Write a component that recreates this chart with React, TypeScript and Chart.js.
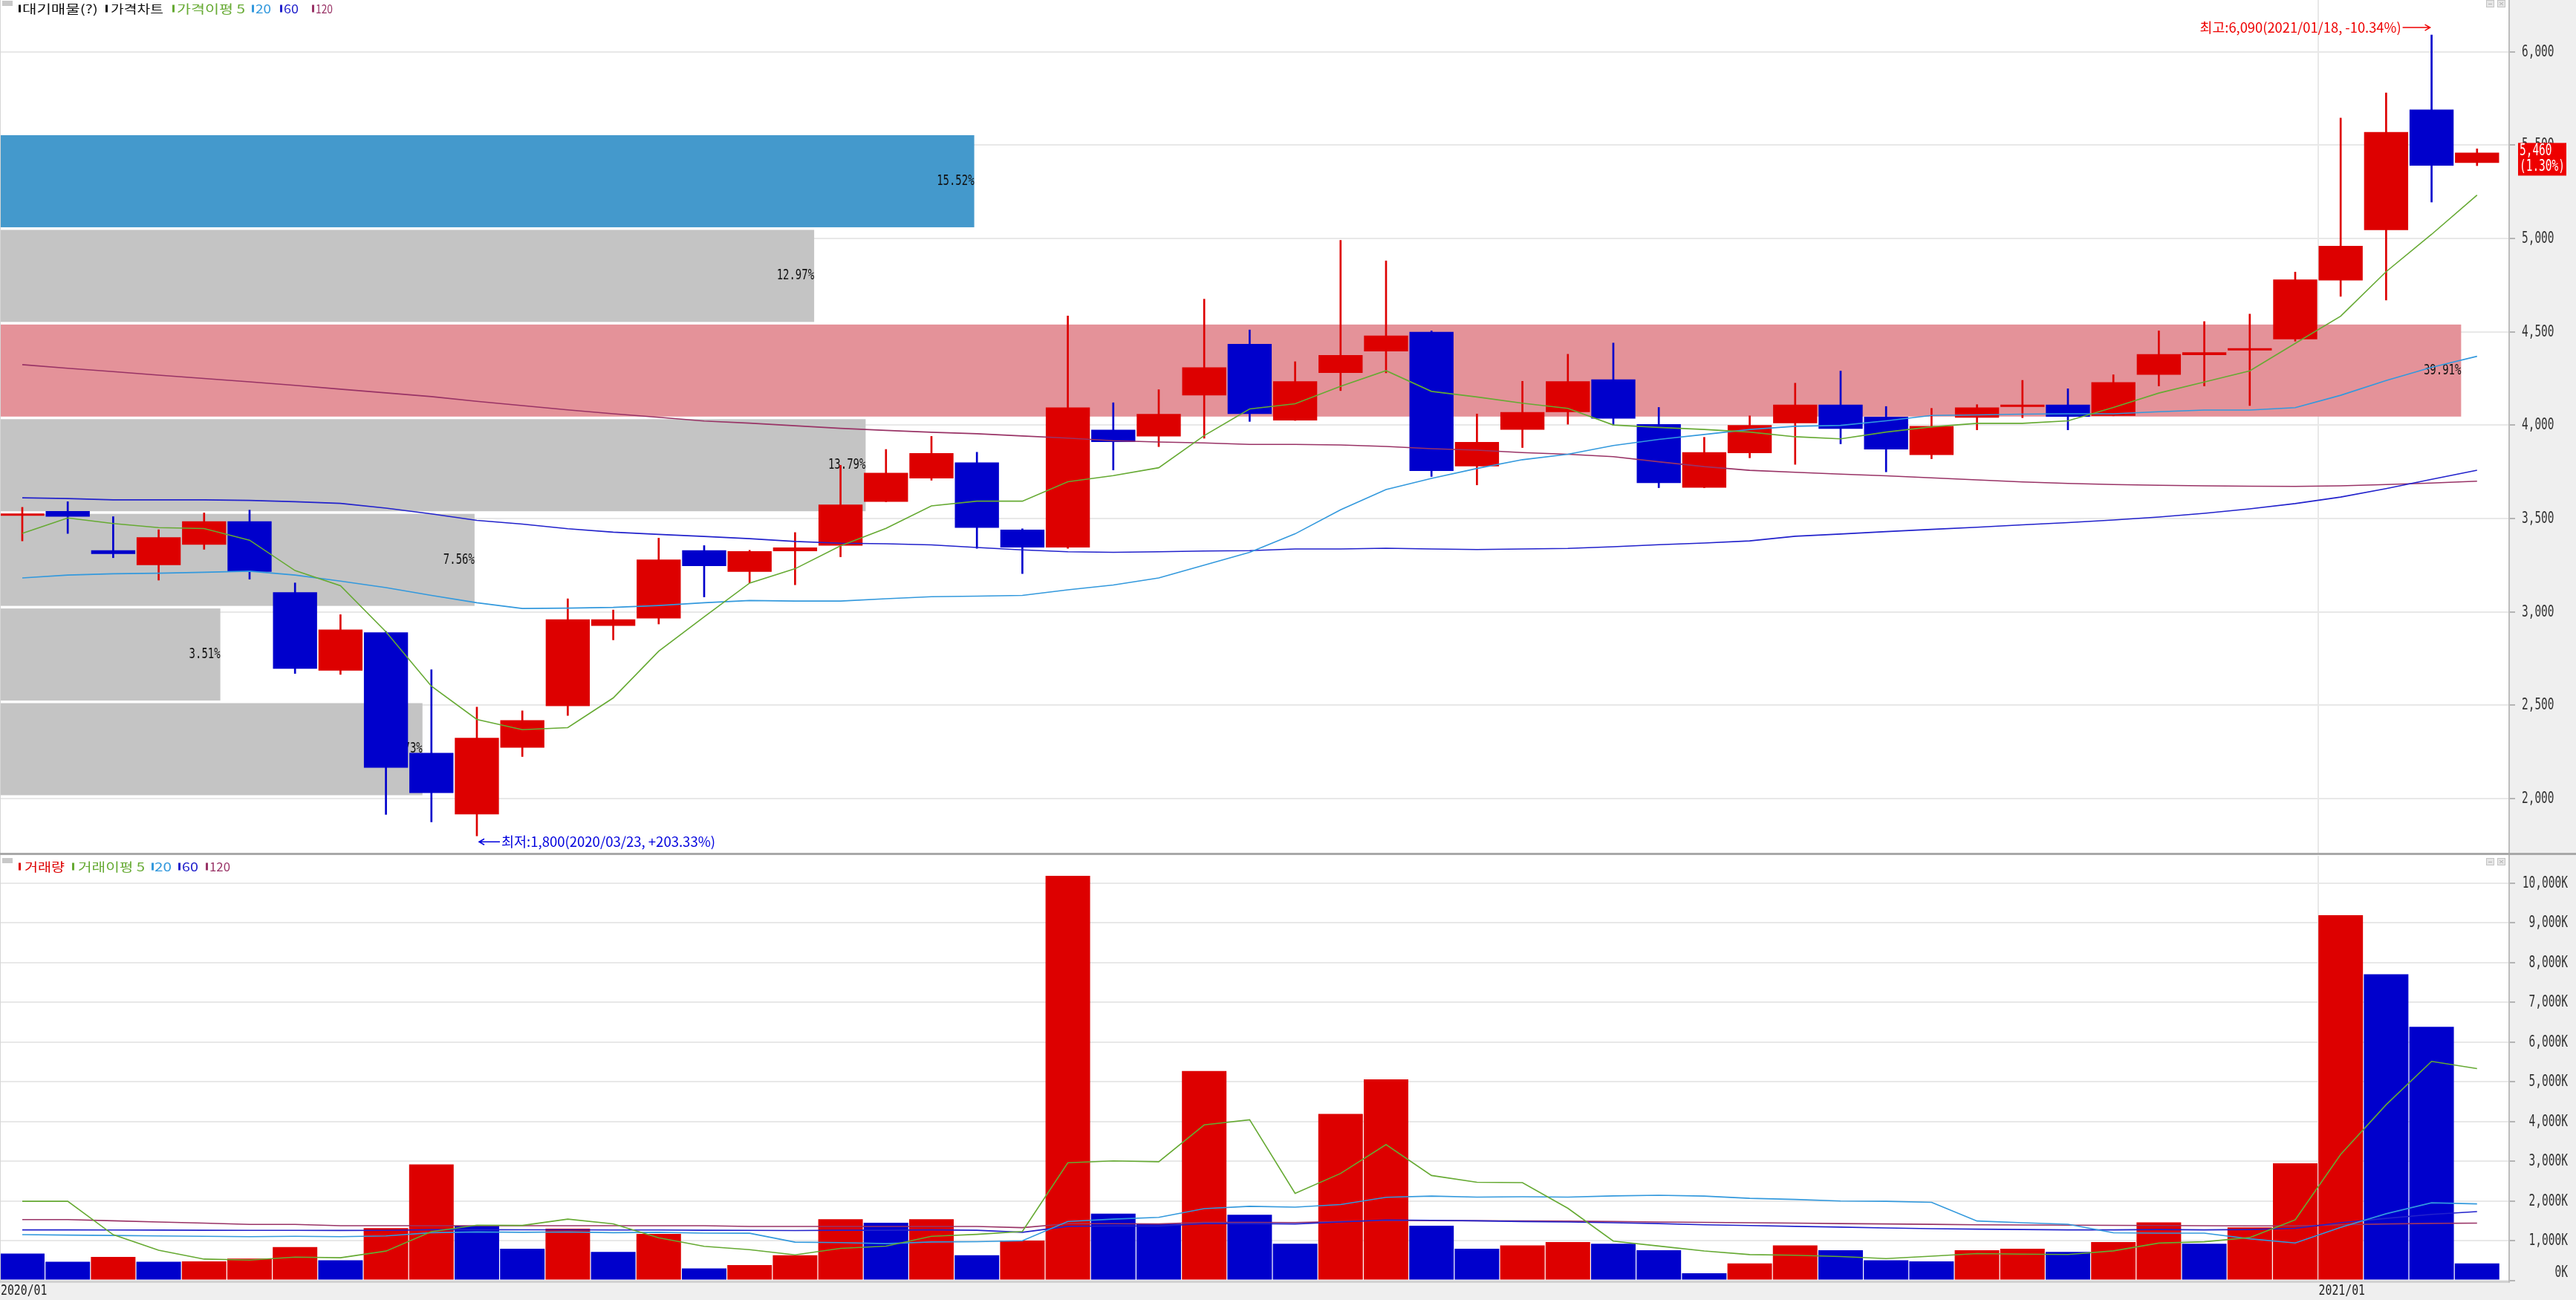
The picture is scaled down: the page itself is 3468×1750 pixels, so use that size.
import React, { useEffect, useRef } from 'react';
import { Chart, registerables } from 'chart.js';

Chart.register(...registerables);

// ---------------- data ----------------
const opens = [3515, 3540, 3330, 3250, 3360, 3485, 3105, 2685, 2890, 2245, 1915, 2273, 2495, 2925, 2965, 3330, 3215, 3325, 3355, 3590, 3715, 3800, 3440, 3345, 3975, 3940, 4160, 4435, 4025, 4280, 4395, 4500, 3780, 3975, 4070, 4245, 4005, 3665, 3850, 4010, 4110, 4045, 3840, 4040, 4098, 4110, 4050, 4270, 4375, 4400, 4460, 4775, 5045, 5690, 5405];
const highs = [3560, 3590, 3510, 3440, 3530, 3545, 3155, 2985, 2895, 2690, 2490, 2470, 3070, 3010, 3395, 3355, 3330, 3425, 3785, 3870, 3940, 3855, 3445, 4585, 4120, 4190, 4675, 4510, 4340, 4990, 4880, 4505, 4060, 4235, 4380, 4440, 4095, 3935, 4050, 4225, 4290, 4100, 4090, 4110, 4240, 4195, 4270, 4505, 4555, 4595, 4820, 5645, 5780, 6090, 5480];
const lows = [3380, 3420, 3290, 3170, 3335, 3175, 2670, 2665, 1915, 1875, 1800, 2225, 2445, 2850, 2935, 3080, 3155, 3145, 3295, 3590, 3705, 3340, 3205, 3340, 3760, 3885, 3930, 4020, 4025, 4185, 4280, 3725, 3680, 3880, 4005, 4000, 3665, 3665, 3825, 3790, 3900, 3750, 3820, 3975, 4040, 3975, 4050, 4210, 4210, 4105, 4450, 4690, 4670, 5195, 5390];
const closes = [3525, 3510, 3310, 3400, 3485, 3215, 2695, 2905, 2165, 2030, 2325, 2420, 2960, 2960, 3280, 3245, 3325, 3345, 3575, 3745, 3850, 3450, 3345, 4095, 3910, 4060, 4310, 4060, 4235, 4375, 4480, 3755, 3910, 4070, 4235, 4035, 3690, 3855, 4000, 4110, 3980, 3870, 3995, 4095, 4108, 4045, 4230, 4380, 4390, 4410, 4780, 4960, 5570, 5390, 5460];

const priceMa5 = [3420, 3503, 3473, 3451, 3446, 3384, 3221, 3140, 2893, 2602, 2424, 2369, 2380, 2539, 2789, 2973, 3154, 3231, 3354, 3447, 3568, 3593, 3593, 3697, 3730, 3772, 3944, 4087, 4115, 4208, 4292, 4181, 4151, 4118, 4090, 4001, 3988, 3977, 3963, 3938, 3927, 3963, 3991, 4010, 4010, 4023, 4095, 4172, 4231, 4291, 4438, 4584, 4822, 5022, 5232];
const priceMa20 = [3182, 3197, 3204, 3207, 3212, 3218, 3197, 3165, 3130, 3088, 3049, 3018, 3020, 3024, 3034, 3049, 3061, 3058, 3058, 3070, 3081, 3084, 3088, 3118, 3144, 3182, 3250, 3319, 3418, 3547, 3655, 3715, 3768, 3815, 3844, 3891, 3924, 3950, 3977, 3994, 3999, 4023, 4052, 4055, 4059, 4061, 4061, 4072, 4081, 4081, 4094, 4160, 4239, 4310, 4369];
const priceMa60 = [3611, 3607, 3600, 3600, 3600, 3597, 3590, 3581, 3556, 3525, 3490, 3470, 3445, 3427, 3415, 3404, 3392, 3377, 3368, 3365, 3359, 3345, 3332, 3322, 3319, 3322, 3326, 3328, 3337, 3337, 3341, 3337, 3334, 3337, 3340, 3349, 3360, 3369, 3380, 3405, 3417, 3430, 3442, 3453, 3466, 3478, 3492, 3508, 3528, 3552, 3580, 3615, 3660, 3710, 3759];
const priceMa120 = [4324, 4305, 4287, 4268, 4250, 4232, 4213, 4193, 4173, 4153, 4128, 4105, 4082, 4061, 4042, 4022, 4011, 3997, 3983, 3972, 3962, 3954, 3942, 3931, 3917, 3910, 3905, 3897, 3897, 3894, 3886, 3874, 3866, 3853, 3844, 3831, 3804, 3778, 3758, 3748, 3738, 3729, 3718, 3707, 3696, 3688, 3682, 3678, 3675, 3673, 3672, 3675, 3682, 3690, 3700];

// volume in thousands of shares
const volumes = [674, 467, 591, 467, 480, 550, 839, 508, 1314, 2920, 1376, 798, 1301, 715, 1170, 302, 384, 632, 1538, 1450, 1538, 632, 1004, 10180, 1681, 1426, 5270, 1650, 922, 4188, 5056, 1377, 798, 880, 963, 922, 757, 178, 426, 880, 757, 508, 480, 757, 798, 715, 963, 1459, 922, 1335, 2948, 9190, 7702, 6379, 426];
const volMa5 = [1990, 1990, 1150, 760, 536, 511, 585, 569, 738, 1226, 1391, 1383, 1542, 1422, 1072, 857, 774, 641, 805, 861, 1108, 1158, 1232, 2961, 3007, 2985, 3912, 4041, 2190, 2691, 3417, 2639, 2468, 2460, 1815, 988, 864, 740, 649, 633, 600, 550, 610, 676, 660, 652, 743, 938, 971, 1079, 1525, 3171, 4419, 5511, 5329];
const volMa20 = [1150, 1140, 1130, 1120, 1110, 1100, 1110, 1100, 1120, 1200, 1220, 1210, 1220, 1200, 1210, 1190, 1186, 963, 950, 924, 967, 975, 996, 1482, 1542, 1585, 1807, 1864, 1844, 1908, 2092, 2121, 2096, 2104, 2094, 2125, 2143, 2121, 2065, 2036, 1997, 1991, 1965, 1494, 1450, 1414, 1199, 1189, 1189, 1047, 941, 1332, 1677, 1952, 1925];
const volMa60 = [1270, 1270, 1268, 1265, 1262, 1260, 1258, 1256, 1258, 1275, 1275, 1272, 1272, 1268, 1268, 1262, 1258, 1255, 1262, 1262, 1270, 1262, 1210, 1360, 1370, 1365, 1430, 1430, 1420, 1470, 1520, 1510, 1500, 1480, 1470, 1450, 1430, 1400, 1380, 1360, 1340, 1320, 1300, 1290, 1280, 1270, 1270, 1280, 1270, 1280, 1310, 1450, 1560, 1660, 1730];
const volMa120 = [1531, 1531, 1500, 1470, 1440, 1407, 1407, 1376, 1376, 1376, 1376, 1376, 1376, 1376, 1376, 1376, 1357, 1357, 1357, 1357, 1357, 1357, 1326, 1426, 1426, 1420, 1460, 1460, 1455, 1480, 1510, 1505, 1500, 1495, 1490, 1480, 1470, 1460, 1450, 1440, 1430, 1420, 1410, 1400, 1395, 1390, 1385, 1380, 1375, 1370, 1370, 1400, 1420, 1435, 1440];

// volume-at-price bands (대기매물)
const bandLows = [2018, 2525, 3032, 3539, 4046, 4553, 5060];
const bandHighs = [2525, 3032, 3539, 4046, 4553, 5060, 5567];
const bandPcts = [6.73, 3.51, 7.56, 13.79, 39.91, 12.97, 15.52];

const priceTicks = [2000, 2500, 3000, 3500, 4000, 4500, 5000, 5500, 6000];
const volumeTicks = [0, 1000, 2000, 3000, 4000, 5000, 6000, 7000, 8000, 9000, 10000];

const monthWeeks = [0, 51];
const monthLabels = ['2020/01', '2021/01'];
const maxDate = '2021/01/18';
const minDate = '2020/03/23';

// ---------------- style ----------------
const W = 3468;
const PRICE_H = 1150;
const VOL_H = 600;
const AXIS_W = 91;
const X_MIN = -0.49;
const X_MAX = 54.69;
const P_MIN = 1709.5;
const P_MAX = 6277.3;
const V_MAX = 10684;
const BAND_SCALE_MAX = 39.96; // percent that spans the whole plot width
const BAND_CAP_INDEX = 53.65;

const UP = '#dd0000';
const DOWN = '#0000cc';
const C_MA5 = '#66aa33';
const C_MA20 = '#3399dd';
const C_MA60 = '#2222cc';
const C_MA120 = '#993366';
const AXIS_BG = '#efefef';
const GRID = '#e8e8e8';
const BAND_GRAY = '#c4c4c4';
const BAND_MAX = '#e49299';
const BAND_CUR = '#4499cc';
const MONO = '"DejaVu Sans Mono", monospace';
const KR = '"Noto Sans CJK KR", "Noto Sans", sans-serif';

const fmt = (v: number) => v.toLocaleString('en-US');

function drawText(ctx: CanvasRenderingContext2D, text: string, x: number, y: number, sx: number, font: string, color: string, align: CanvasTextAlign = 'left') {
  ctx.save();
  ctx.font = font;
  ctx.fillStyle = color;
  ctx.textBaseline = 'middle';
  ctx.textAlign = align;
  ctx.translate(x, y);
  ctx.scale(sx, 1);
  ctx.fillText(text, 0, 0);
  ctx.restore();
}

function fitText(ctx: CanvasRenderingContext2D, text: string, x: number, y: number, width: number, font: string, color: string, align: CanvasTextAlign = 'left') {
  ctx.save();
  ctx.font = font;
  const w = ctx.measureText(text).width || 1;
  ctx.restore();
  drawText(ctx, text, x, y, width / w, font, color, align);
}

function arrow(ctx: CanvasRenderingContext2D, x1: number, x2: number, y: number, color: string) {
  ctx.save();
  ctx.strokeStyle = color;
  ctx.lineWidth = 1.5;
  ctx.beginPath();
  ctx.moveTo(x1, y);
  ctx.lineTo(x2, y);
  const d = x2 > x1 ? -1 : 1;
  ctx.moveTo(x2 + d * 7, y - 4);
  ctx.lineTo(x2, y);
  ctx.lineTo(x2 + d * 7, y + 4);
  ctx.stroke();
  ctx.restore();
}

type LegendItem = { mx: number; x: number; w: number; text: string; color: string };

function drawLegend(ctx: CanvasRenderingContext2D, items: LegendItem[], y: number, iconY: number) {
  ctx.save();
  ctx.fillStyle = '#c8c8c8';
  ctx.fillRect(3, iconY, 14, 7);
  items.forEach((it) => {
    ctx.fillStyle = it.color;
    ctx.fillRect(it.mx, y - 5, 3, 10);
    fitText(ctx, it.text, it.x, y, it.w, '16px ' + KR, it.color);
  });
  ctx.restore();
}

function windowIcons(ctx: CanvasRenderingContext2D, y: number) {
  ctx.save();
  [3347, 3362].forEach((x, k) => {
    ctx.fillStyle = '#e6e6e6';
    ctx.fillRect(x, y, 11, 10);
    ctx.strokeStyle = '#c4c4c4';
    ctx.lineWidth = 1;
    ctx.strokeRect(x + 0.5, y + 0.5, 10, 9);
    ctx.strokeStyle = '#b0b0b0';
    ctx.beginPath();
    if (k === 0) {
      ctx.moveTo(x + 3, y + 5.5);
      ctx.lineTo(x + 8, y + 5.5);
    } else {
      ctx.moveTo(x + 3, y + 3);
      ctx.lineTo(x + 8, y + 7);
      ctx.moveTo(x + 8, y + 3);
      ctx.lineTo(x + 3, y + 7);
    }
    ctx.stroke();
  });
  ctx.restore();
}

const xy = (arr: number[]) => arr.map((v, i) => ({ x: i, y: v }));
const lineDs = (arr: number[], color: string, order: number) => ({
  type: 'line' as const,
  data: xy(arr),
  borderColor: color,
  borderWidth: 1.6,
  pointRadius: 0,
  fill: false,
  tension: 0,
  order,
});

const candleColors = closes.map((c, i) => (c >= opens[i] ? UP : DOWN));
const volumeColors = volumes.map((v, i) => (i > 0 && v >= volumes[i - 1] ? UP : DOWN));

function xScaleOpts() {
  return { type: 'linear' as const, min: X_MIN, max: X_MAX, display: false, offset: false };
}

const priceLegend: LegendItem[] = [
  { mx: 25, x: 30, w: 102, text: '대기매물(?)', color: '#111111' },
  { mx: 142, x: 149, w: 71, text: '가격차트', color: '#111111' },
  { mx: 232, x: 238, w: 92, text: '가격이평 5', color: C_MA5 },
  { mx: 339, x: 344, w: 21, text: '20', color: C_MA20 },
  { mx: 377, x: 382, w: 20, text: '60', color: C_MA60 },
  { mx: 420, x: 425, w: 23, text: '120', color: C_MA120 },
];
const volumeLegend: LegendItem[] = [
  { mx: 25, x: 33, w: 54, text: '거래량', color: UP },
  { mx: 97, x: 105, w: 90, text: '거래이평 5', color: C_MA5 },
  { mx: 204, x: 208, w: 23, text: '20', color: C_MA20 },
  { mx: 240, x: 245, w: 22, text: '60', color: C_MA60 },
  { mx: 277, x: 282, w: 28, text: '120', color: C_MA120 },
];

const pricePlugin = {
  id: 'priceDecor',
  beforeDraw(chart: any) {
    const { ctx, chartArea: a } = chart;
    ctx.save();
    ctx.fillStyle = AXIS_BG;
    ctx.fillRect(0, 0, chart.width, chart.height);
    ctx.fillStyle = '#ffffff';
    ctx.fillRect(0, 0, a.right, chart.height - 2);
    ctx.restore();
  },
  beforeDatasetsDraw(chart: any) {
    const { ctx, chartArea: a, scales } = chart;
    const x = scales.x, y = scales.y;
    ctx.save();
    ctx.fillStyle = GRID;
    monthWeeks.forEach((w) => {
      const px = Math.round(x.getPixelForValue(w - 0.5));
      ctx.fillRect(px - 1, a.top, 2, a.bottom - a.top);
    });
    const maxPct = Math.max(...bandPcts);
    const last = closes[closes.length - 1];
    const capX = x.getPixelForValue(BAND_CAP_INDEX);
    bandPcts.forEach((p, i) => {
      const top = y.getPixelForValue(bandHighs[i]) + 3.5;
      const bot = y.getPixelForValue(bandLows[i]);
      const along = X_MIN + (p / BAND_SCALE_MAX) * (X_MAX - X_MIN);
      const right = Math.min(x.getPixelForValue(along), capX);
      const current = last >= bandLows[i] && last < bandHighs[i];
      ctx.fillStyle = current ? BAND_CUR : p === maxPct ? BAND_MAX : BAND_GRAY;
      ctx.fillRect(a.left, top, right - a.left, bot - top);
      drawText(ctx, p.toFixed(2) + '%', right, (top + bot) / 2, 0.735, '19px ' + MONO, '#111111', 'right');
    });
    ctx.restore();
  },
  afterDraw(chart: any) {
    const { ctx, chartArea: a, scales } = chart;
    const x = scales.x, y = scales.y;
    ctx.save();
    ctx.fillStyle = '#d6d6d6';
    ctx.fillRect(0, 0, 1, chart.height - 2);
    ctx.fillStyle = '#bdbdbd';
    ctx.fillRect(a.right, 0, 2, chart.height);
    y.ticks.forEach((t: any) => {
      const py = Math.round(y.getPixelForValue(t.value));
      ctx.fillStyle = '#b4b4b4';
      ctx.fillRect(a.right + 2, py - 1, 7, 2);
      drawText(ctx, fmt(t.value), a.right + 18, py, 0.657, '22px ' + MONO, '#333333');
    });
    const last = closes[closes.length - 1];
    const prev = closes[closes.length - 2];
    const chg = ((last / prev - 1) * 100).toFixed(2);
    const ly = y.getPixelForValue(last);
    ctx.fillStyle = '#ee0000';
    ctx.fillRect(a.right + 13, ly - 13, 65, 44);
    drawText(ctx, fmt(last), a.right + 15, ly - 2, 0.657, '22px ' + MONO, '#ffffff');
    drawText(ctx, '(' + chg + '%)', a.right + 15, ly + 19, 0.657, '22px ' + MONO, '#ffffff');
    drawLegend(ctx, priceLegend, 11.5, 1);
    windowIcons(ctx, 0);
    let hi = 0, lo = 0;
    highs.forEach((h, i) => { if (h > highs[hi]) hi = i; });
    lows.forEach((l, i) => { if (l < lows[lo]) lo = i; });
    const hx = x.getPixelForValue(hi);
    const hy = y.getPixelForValue(highs[hi]) - 10;
    const hpct = ((last / highs[hi] - 1) * 100).toFixed(2);
    fitText(ctx, `최고:${fmt(highs[hi])}(${maxDate}, ${hpct}%)`, hx - 41, hy, 271, '18px ' + KR, '#ee0000', 'right');
    arrow(ctx, hx - 39, hx - 2, hy, '#ee0000');
    const lx = x.getPixelForValue(lo);
    const lyy = y.getPixelForValue(lows[lo]) + 8;
    const lpct = ((last / lows[lo] - 1) * 100).toFixed(2);
    arrow(ctx, lx + 31, lx + 3, lyy, '#0000dd');
    fitText(ctx, `최저:${fmt(lows[lo])}(${minDate}, +${lpct}%)`, lx + 33, lyy, 288, '18px ' + KR, '#0000dd');
    ctx.fillStyle = '#a8a8a8';
    ctx.fillRect(0, chart.height - 2, chart.width, 2);
    ctx.restore();
  },
};

const volumePlugin = {
  id: 'volumeDecor',
  beforeDraw(chart: any) {
    const { ctx, chartArea: a } = chart;
    ctx.save();
    ctx.fillStyle = AXIS_BG;
    ctx.fillRect(0, 0, chart.width, chart.height);
    ctx.fillStyle = '#ffffff';
    ctx.fillRect(0, 0, a.right, a.bottom + 1);
    ctx.restore();
  },
  beforeDatasetsDraw(chart: any) {
    const { ctx, chartArea: a, scales } = chart;
    ctx.save();
    ctx.fillStyle = GRID;
    monthWeeks.forEach((w) => {
      const px = Math.round(scales.x.getPixelForValue(w - 0.5));
      ctx.fillRect(px - 1, a.top, 2, a.bottom - a.top);
    });
    ctx.restore();
  },
  afterDraw(chart: any) {
    const { ctx, chartArea: a, scales } = chart;
    const x = scales.x, y = scales.y;
    ctx.save();
    ctx.fillStyle = '#d6d6d6';
    ctx.fillRect(0, 0, 1, a.bottom);
    ctx.fillStyle = '#c8c8c8';
    ctx.fillRect(0, a.bottom + 1, a.right + 2, 2);
    ctx.fillStyle = '#bdbdbd';
    ctx.fillRect(a.right, 0, 2, a.bottom + 3);
    y.ticks.forEach((t: any) => {
      const py = Math.round(y.getPixelForValue(t.value));
      ctx.fillStyle = '#b4b4b4';
      ctx.fillRect(a.right + 2, py - 1, 7, 2);
      drawText(ctx, fmt(t.value) + 'K', a.right + 80, Math.min(py, a.bottom - 10), 0.66, '22px ' + MONO, '#333333', 'right');
    });
    monthWeeks.forEach((w, k) => {
      const px = Math.max(0, x.getPixelForValue(w - 0.5));
      drawText(ctx, monthLabels[k], px + 1, a.bottom + 14, 0.74, '20px ' + MONO, '#222222');
    });
    drawLegend(ctx, volumeLegend, 16.5, 5);
    windowIcons(ctx, 5);
    ctx.fillStyle = '#a8a8a8';
    ctx.fillRect(0, 0, chart.width, 1);
    ctx.restore();
  },
};

function priceConfig(): any {
  return {
    type: 'bar',
    data: {
      datasets: [
        lineDs(priceMa5, C_MA5, 1),
        lineDs(priceMa20, C_MA20, 2),
        lineDs(priceMa60, C_MA60, 3),
        lineDs(priceMa120, C_MA120, 4),
        {
          type: 'bar',
          data: opens.map((o, i) => ({ x: i, y: [o, closes[i]] })),
          backgroundColor: candleColors,
          barPercentage: 0.97,
          categoryPercentage: 1,
          grouped: false,
          minBarLength: 3,
          order: 5,
        },
        {
          type: 'bar',
          data: highs.map((h, i) => ({ x: i, y: [lows[i], h] })),
          backgroundColor: candleColors,
          barThickness: 2,
          grouped: false,
          order: 6,
        },
      ],
    },
    options: {
      animation: false,
      responsive: false,
      maintainAspectRatio: false,
      events: [],
      layout: { padding: { top: 0, right: 0, bottom: 2, left: 0 } },
      plugins: { legend: { display: false }, tooltip: { enabled: false } },
      scales: {
        x: xScaleOpts(),
        y: {
          position: 'right',
          min: P_MIN,
          max: P_MAX,
          afterBuildTicks: (s: any) => { s.ticks = priceTicks.map((value) => ({ value })); },
          afterFit: (s: any) => { s.width = AXIS_W; },
          ticks: { display: false },
          grid: { color: GRID, lineWidth: 2, drawTicks: false },
          border: { display: false },
        },
      },
    },
    plugins: [pricePlugin],
  };
}

function volumeConfig(): any {
  return {
    type: 'bar',
    data: {
      datasets: [
        lineDs(volMa5, C_MA5, 1),
        lineDs(volMa20, C_MA20, 2),
        lineDs(volMa60, C_MA60, 3),
        lineDs(volMa120, C_MA120, 4),
        {
          type: 'bar',
          data: volumes.map((v, i) => ({ x: i, y: v })),
          backgroundColor: volumeColors,
          barPercentage: 0.98,
          categoryPercentage: 1,
          grouped: false,
          order: 5,
        },
      ],
    },
    options: {
      animation: false,
      responsive: false,
      maintainAspectRatio: false,
      events: [],
      layout: { padding: { top: 2, right: 0, bottom: 26.4, left: 0 } },
      plugins: { legend: { display: false }, tooltip: { enabled: false } },
      scales: {
        x: xScaleOpts(),
        y: {
          position: 'right',
          min: 0,
          max: V_MAX,
          afterBuildTicks: (s: any) => { s.ticks = volumeTicks.map((value) => ({ value })); },
          afterFit: (s: any) => { s.width = AXIS_W; },
          ticks: { display: false },
          grid: { color: GRID, lineWidth: 2, drawTicks: false },
          border: { display: false },
        },
      },
    },
    plugins: [volumePlugin],
  };
}

export default function App() {
  const pRef = useRef<HTMLCanvasElement>(null);
  const vRef = useRef<HTMLCanvasElement>(null);
  useEffect(() => {
    const pc = new Chart(pRef.current as HTMLCanvasElement, priceConfig());
    const vc = new Chart(vRef.current as HTMLCanvasElement, volumeConfig());
    return () => {
      pc.destroy();
      vc.destroy();
    };
  }, []);
  return (
    <div style={{ position: 'fixed', left: 0, top: 0, width: W, height: PRICE_H + VOL_H, background: AXIS_BG, overflow: 'hidden' }}>
      <canvas ref={pRef} width={W} height={PRICE_H} style={{ position: 'absolute', left: 0, top: 0, width: W, height: PRICE_H }} />
      <canvas ref={vRef} width={W} height={VOL_H} style={{ position: 'absolute', left: 0, top: PRICE_H, width: W, height: VOL_H }} />
    </div>
  );
}
